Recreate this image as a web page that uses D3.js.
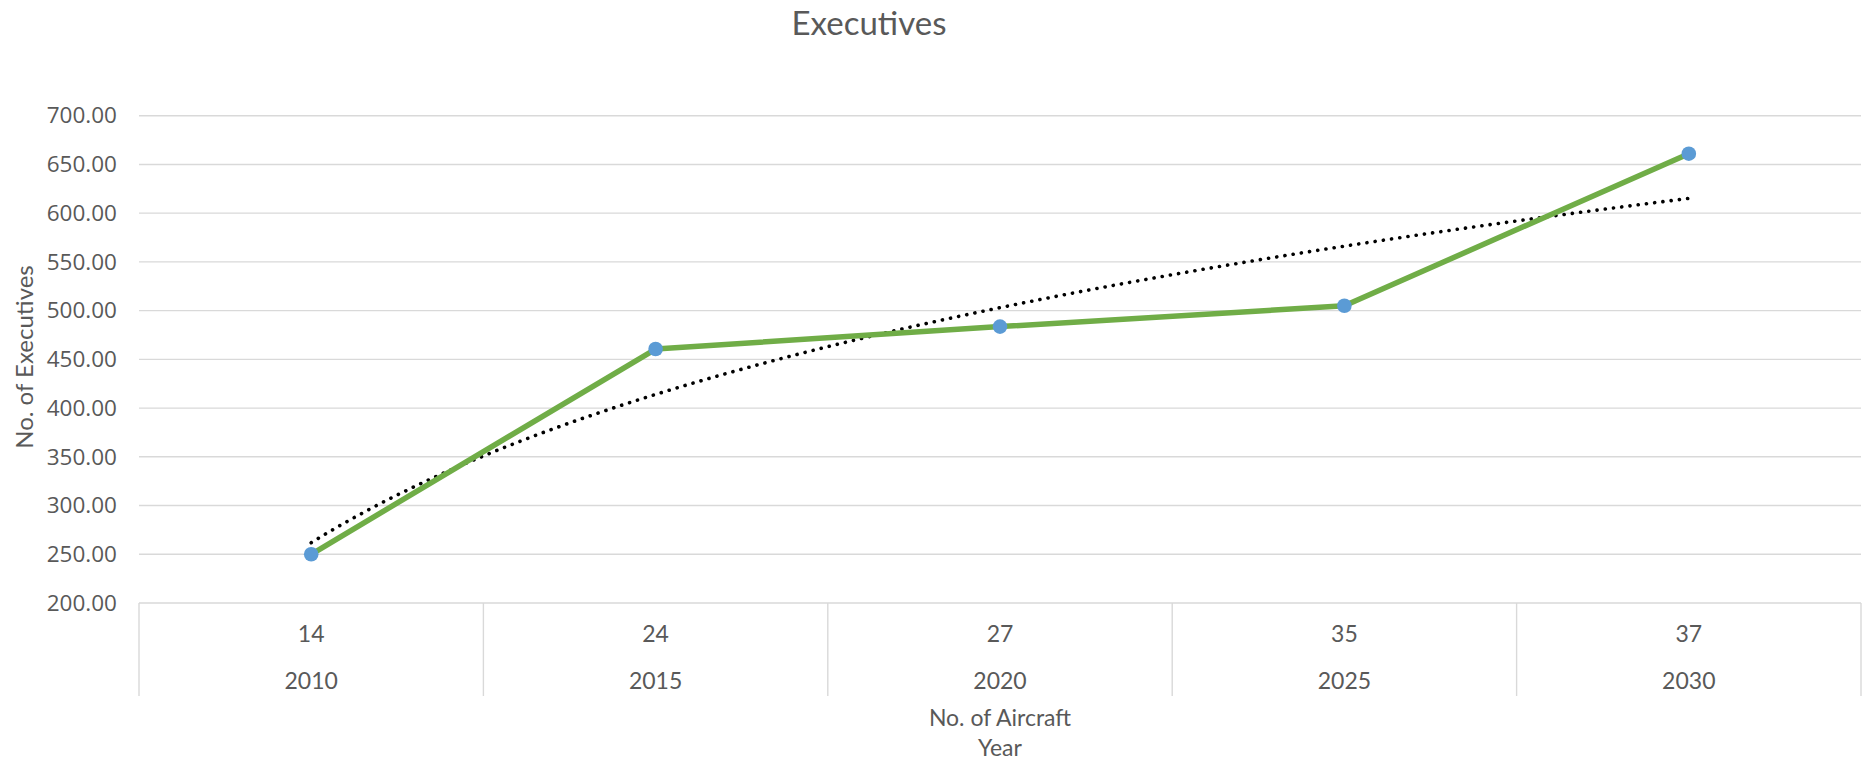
<!DOCTYPE html>
<html>
<head>
<meta charset="utf-8">
<script src="https://cdn.jsdelivr.net/npm/d3@7/dist/d3.min.js"></script>
<style>
  html, body { margin: 0; padding: 0; background: #fff; }
  svg { display: block; }
  text { fill: #595959; }
</style>
</head>
<body>
<svg id="chart" width="1862" height="761"></svg>
<script>
// Executives per forecast year, with the fleet size for each year
const years = ["2010", "2015", "2020", "2025", "2030"];
const aircraft = ["14", "24", "27", "35", "37"];
const executives = [250, 460.6, 483.6, 505, 661];
const yTicks = [200, 250, 300, 350, 400, 450, 500, 550, 600, 650, 700];

const plotLeft = 139, plotRight = 1861, plotTop = 115.7, plotBottom = 603;

const svg = d3.select("#chart");

const x = d3.scaleBand().domain(d3.range(years.length)).range([plotLeft, plotRight]).padding(0);
const y = d3.scaleLinear().domain([200, 700]).range([plotBottom, plotTop]);
const cx = i => x(i) + x.bandwidth() / 2;

// Horizontal gridlines
svg.append("g")
  .selectAll("line")
  .data(yTicks)
  .join("line")
  .attr("x1", plotLeft).attr("x2", plotRight)
  .attr("y1", d => y(d)).attr("y2", d => y(d))
  .attr("stroke", "#d9d9d9").attr("stroke-width", 1.4);

// Y axis labels
const yAxis = d3.axisLeft(y).tickValues(yTicks).tickFormat(d3.format(".2f")).tickSize(0).tickPadding(0);
const gy = svg.append("g").attr("transform", "translate(117,0)").call(yAxis);
gy.select(".domain").remove();
gy.selectAll("text")
  .attr("fill", "#595959")
  .style("font-family", "'Open Sans', sans-serif")
  .style("font-size", "22.5px");

// Category axis: two label rows separated by vertical dividers
const bounds = d3.range(years.length).map(i => x(i)).concat([plotRight]);
svg.append("g")
  .selectAll("line")
  .data(bounds)
  .join("line")
  .attr("x1", d => d).attr("x2", d => d)
  .attr("y1", plotBottom).attr("y2", 696)
  .attr("stroke", "#d9d9d9").attr("stroke-width", 1.4);

svg.append("g")
  .selectAll("text")
  .data(aircraft)
  .join("text")
  .attr("x", (d, i) => cx(i)).attr("y", 642)
  .attr("text-anchor", "middle")
  .style("font-family", "Lato, sans-serif").style("font-size", "23px")
  .text(d => d);

svg.append("g")
  .selectAll("text")
  .data(years)
  .join("text")
  .attr("x", (d, i) => cx(i)).attr("y", 689)
  .attr("text-anchor", "middle")
  .style("font-family", "Lato, sans-serif").style("font-size", "23px")
  .text(d => d);

// Logarithmic trendline fitted to the series (x = 1..n)
const lx = executives.map((d, i) => Math.log(i + 1));
const mx = d3.mean(lx), my = d3.mean(executives);
const b = d3.sum(lx, (v, i) => (v - mx) * (executives[i] - my)) / d3.sum(lx, v => (v - mx) ** 2);
const a = my - b * mx;
const tPts = d3.range(1, years.length + 0.0001, 0.02).map(t => [cx(0) + (t - 1) * x.bandwidth(), y(a + b * Math.log(t))]);
svg.append("path")
  .datum(tPts)
  .attr("d", d3.line())
  .attr("fill", "none")
  .attr("stroke", "#000")
  .attr("stroke-width", 3.6)
  .attr("stroke-linecap", "round")
  .attr("stroke-dasharray", "0.1 8.2");

// Series line and markers
svg.append("path")
  .datum(executives)
  .attr("d", d3.line().x((d, i) => cx(i)).y(d => y(d)))
  .attr("fill", "none")
  .attr("stroke", "#70ad47")
  .attr("stroke-width", 5.5)
  .attr("stroke-linejoin", "round");

svg.append("g")
  .selectAll("circle")
  .data(executives)
  .join("circle")
  .attr("cx", (d, i) => cx(i)).attr("cy", d => y(d))
  .attr("r", 7.3)
  .attr("fill", "#5b9bd5");

// Titles
svg.append("text")
  .attr("x", 869).attr("y", 35)
  .attr("text-anchor", "middle")
  .style("font-family", "Lato, sans-serif").style("font-size", "33px")
  .text("Executives");

svg.append("text")
  .attr("transform", "translate(33,357) rotate(-90)")
  .attr("text-anchor", "middle")
  .style("font-family", "Lato, sans-serif").style("font-size", "24px")
  .text("No. of Executives");

svg.append("text")
  .attr("x", 1000).attr("y", 726)
  .attr("text-anchor", "middle")
  .style("font-family", "Lato, sans-serif").style("font-size", "23px")
  .text("No. of Aircraft");

svg.append("text")
  .attr("x", 1000).attr("y", 756)
  .attr("text-anchor", "middle")
  .style("font-family", "Lato, sans-serif").style("font-size", "23px")
  .text("Year");
</script>
</body>
</html>
